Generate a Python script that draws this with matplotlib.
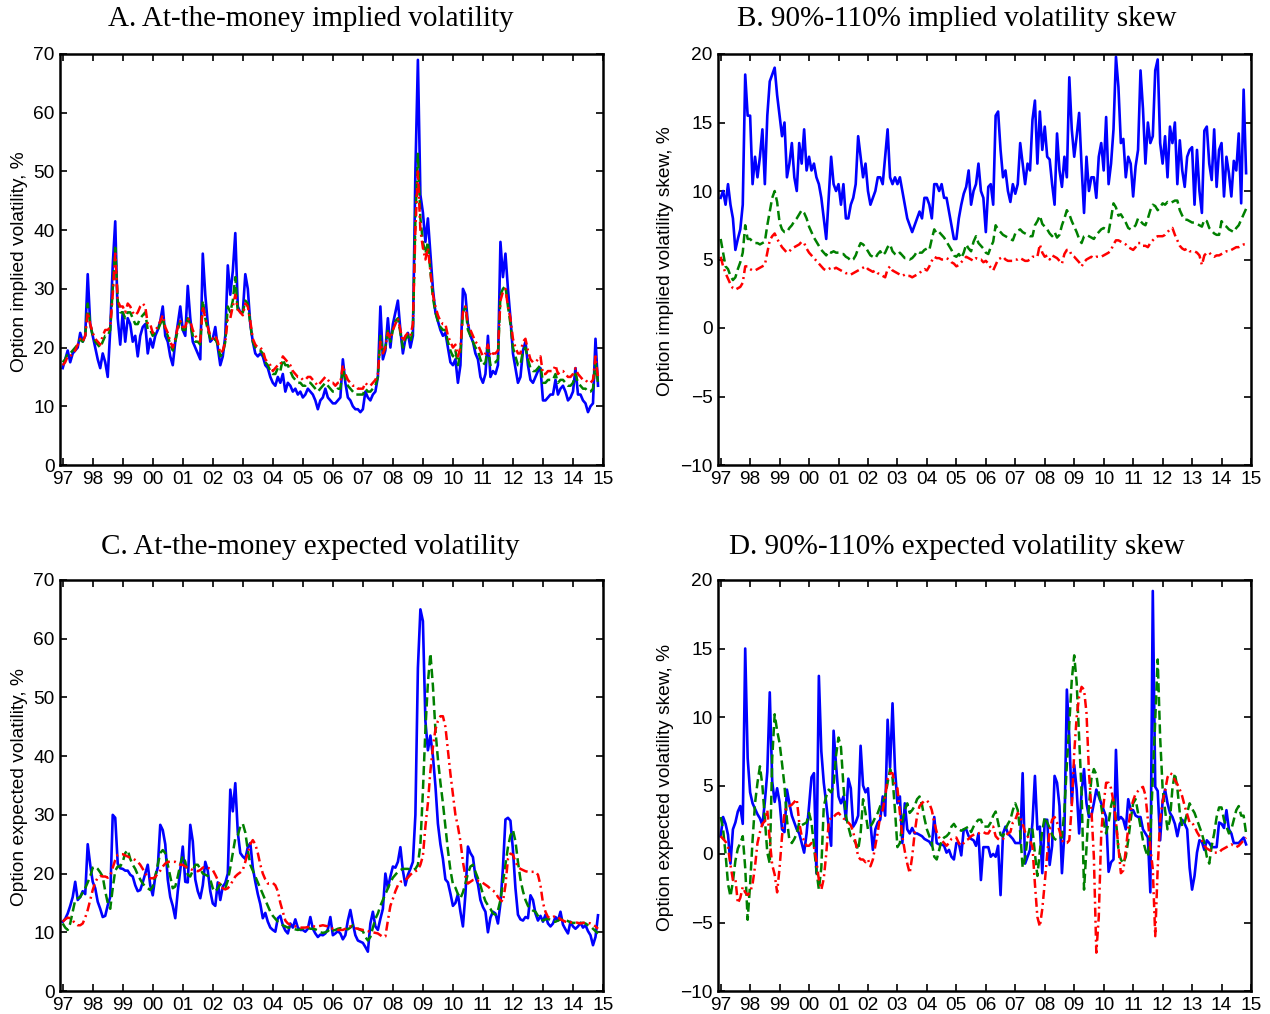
import numpy as np
import matplotlib
matplotlib.use("Agg")
import matplotlib.pyplot as plt

START_YEAR = 1997
tick_years = list(range(1997, 2016))
tick_labels = ["%02d" % (y % 100) for y in tick_years]

# ---------------- Panel A: at-the-money implied volatility (monthly, Jan 1997 - Nov 2014)
A_blue = [16.5, 18, 19.5, 17.5, 19, 19.5, 20, 22.5, 21, 22, 32.5, 24,
          22, 20, 18, 16.5, 19, 17.5, 15, 23, 34, 41.5, 25, 20.5,
          26, 21, 25, 24, 21, 22, 18.5, 22, 23.5, 24, 19, 21.5,
          20, 22, 23, 24.5, 27, 22, 21, 18.5, 17, 21, 24, 27,
          23, 22, 30.5, 25, 21, 20, 19, 18, 36, 29, 24, 21,
          21.5, 23.5, 20, 17, 18.5, 22, 34, 29, 33, 39.5, 27, 26,
          26, 32.5, 30, 24, 21, 19, 18.5, 19, 18.5, 17, 16.5, 15,
          14, 13.5, 15, 14, 15.5, 12.5, 14, 13.5, 12.5, 13, 12, 12.5,
          11.5, 12, 13, 12.5, 12, 11, 9.5, 11, 11.5, 13, 11.5, 11,
          10.5, 10.5, 11, 11.5, 18, 14, 11.5, 11, 10, 9.5, 9.5, 9,
          9.5, 12.5, 11.5, 11, 12, 12.5, 15, 27, 18, 19.5, 25, 20,
          24, 26, 28, 23, 19, 21.5, 22.5, 20, 22, 50, 69, 46,
          43, 38, 42, 36, 30, 26, 24.5, 23, 22, 22.5, 20, 17.5,
          17, 18, 14, 17, 30, 29, 24, 22, 21, 19, 18, 15,
          14, 15.5, 22, 15, 16, 15.5, 17, 38, 32, 36, 30, 25,
          19, 16.5, 14, 15, 19.5, 21, 17, 14.5, 14, 15, 16, 16.5,
          11, 11, 11.5, 12, 12, 14.5, 12, 13, 13.5, 12.5, 11, 11.5,
          12.5, 16.5, 12, 12, 11, 10.5, 9, 10, 10.5, 21.5, 13.5]
A_green = [17.5, 18, 19, 19, 19.5, 20, 20.5, 21.5, 21, 22, 27.5, 24,
           22, 21, 20.5, 20, 21, 22, 22, 23, 30, 37, 28, 26,
           26, 25, 26, 26, 25, 24, 24, 25, 25.5, 26, 23, 23,
           22, 22.5, 23, 24, 25, 23, 22, 20.5, 19.5, 21, 23, 24.5,
           23, 23, 25, 24, 22, 21, 21, 20.5, 28, 25, 23, 21.5,
           21, 21.5, 20.5, 18.5, 19, 21, 27, 26, 28, 32, 26, 26,
           26, 28, 27.5, 24, 21, 20, 19.5, 19.5, 19, 17.5, 17, 16,
           15.5, 15.5, 16.5, 16, 18, 17, 17, 16, 15, 14.5, 14, 14,
           13.5, 13.5, 14, 14, 13.5, 13, 12.5, 13, 13.5, 14, 13.5, 13,
           12.5, 12.5, 13, 13, 16.5, 14.5, 13.5, 13, 12.5, 12, 12, 12,
           12, 13, 12.5, 12.5, 13, 13.5, 15, 22, 19, 20, 23, 21,
           23, 24.5, 25, 22.5, 20, 21.5, 22, 21, 23, 42, 53, 42,
           38, 36, 38, 33, 28.5, 26, 24.5, 23.5, 23, 23, 21, 19.5,
           18.5, 19.5, 17, 19, 26, 27, 23, 22, 21, 20, 19.5, 18,
           17, 17.5, 20, 17, 17.5, 17.5, 18, 29, 30, 30.5, 27, 24,
           20, 18.5, 17, 17, 19.5, 20, 18, 16.5, 16, 16, 16.5, 17,
           14, 14, 14.5, 14.5, 14.5, 15.5, 14, 14.5, 14.5, 14, 13.5, 13.5,
           14, 15.5, 14, 13.5, 13, 13, 12.5, 12.5, 13, 17.5, 14]
A_red = [17, 17.5, 18.5, 18.5, 19, 19.5, 20.5, 21.5, 21, 22, 26, 24,
         22.5, 21.5, 21, 20.5, 22, 23, 23, 23.5, 29, 36, 28, 27,
         27, 26, 27.5, 27, 26, 25.5, 26, 27, 27.5, 27, 24, 24,
         22.5, 23, 23.5, 24.5, 25.5, 23.5, 22.5, 21, 20, 21.5, 23.5, 24.5,
         23.5, 23.5, 25, 24.5, 23, 22, 21.5, 21, 27, 25, 23.5, 22,
         21.5, 22, 21, 19, 19.5, 21, 25, 25, 27, 29, 26.5, 26,
         25.5, 27.5, 27, 24.5, 21.5, 20.5, 20, 20, 19.5, 18, 17.5, 17,
         16, 16.5, 17, 17, 18.5, 18, 17.5, 17, 16, 15.5, 15, 15,
         14.5, 14.5, 15, 15, 14.5, 14, 13.5, 14, 14.5, 15, 14.5, 14,
         14, 13.5, 14, 14, 17, 15.5, 14.5, 14, 13.5, 13.5, 13, 13,
         13, 14, 13.5, 13.5, 14, 14.5, 15.5, 21, 19, 20, 22.5, 21.5,
         23, 24, 25, 23, 21, 22, 22.5, 22, 24, 40, 50, 40,
         37, 35, 37, 33, 29, 27, 25.5, 24.5, 24, 24, 22, 21,
         20, 20.5, 18.5, 20, 26, 27, 24, 23, 22, 21, 20.5, 19.5,
         18.5, 19, 20.5, 18.5, 19, 19, 19.5, 28, 29.5, 30, 27, 25,
         21.5, 20, 19, 19, 21, 21.5, 19.5, 18, 17.5, 17.5, 18, 18.5,
         15.5, 15.5, 16, 16, 16, 17, 15.5, 16, 16, 15.5, 15, 15,
         15.5, 16.5, 15.5, 15, 14.5, 14.5, 14, 14, 14.5, 18.5, 15]

# ---------------- Panel B: 90%-110% implied volatility skew
B_blue = [9.5, 10, 9, 10.5, 9, 8, 5.7, 6.5, 7.2, 9, 18.5, 15.5,
          15.5, 10.5, 12.5, 11, 12.5, 14.5, 10.5, 15.5, 18, 18.5, 19, 17,
          15.5, 14, 15, 11, 12, 13.5, 11, 10, 13.5, 12, 14.5, 11.5,
          12.5, 11.5, 12, 11, 10.5, 9.5, 8, 6.5, 9.5, 12.5, 10.5, 10,
          10.5, 9, 10.5, 8, 8, 9, 9.5, 10.5, 14, 12.5, 11, 12,
          10, 9, 9.5, 10, 11, 11, 10.5, 12.5, 14.5, 11, 10.5, 11,
          10.5, 11, 10, 9, 8, 7.5, 7, 7.5, 8, 8.5, 8, 9.5,
          9.5, 9, 8, 10.5, 10.5, 10, 10.5, 9.5, 9.5, 8.5, 7.5, 6.5,
          6.5, 8, 9, 9.8, 10.3, 11.5, 9, 10, 10.5, 12, 10, 9.5,
          7, 10.3, 10.5, 9, 15.5, 15.8, 13, 11, 11.5, 10, 9.2, 10.5,
          9.8, 10.5, 13.5, 12, 10.5, 12, 11.5, 15.2, 16.6, 12, 15.8, 13,
          14.7, 12.5, 12.3, 10.5, 9, 14.2, 11.5, 10.3, 12.5, 11, 18.3, 14.5,
          12.5, 14, 15.7, 11.8, 8.4, 12.5, 10, 11, 11, 9.5, 12.5, 13.5,
          11.5, 15.4, 10.5, 12, 14.5, 19.8, 17.6, 13.5, 13.8, 11, 12.5, 12,
          9.6, 11.8, 13, 18.8, 16, 12, 15, 13.5, 14, 18.8, 19.6, 13.5,
          12, 14, 11, 14.7, 13.5, 15, 10.5, 13.7, 11.5, 10.3, 12.5, 13,
          13.2, 9, 13, 10, 8.4, 14.4, 14.7, 12, 10.8, 14.5, 10.3, 13,
          13.5, 9.6, 12.5, 11.3, 9.6, 12.2, 11.5, 14.2, 9.1, 17.4, 11.3]
B_green = [6.5, 5.5, 4.5, 4.3, 3.8, 3.5, 3.7, 4.3, 4.8, 5.5, 7.5, 6.5,
           6.5, 6.3, 6.2, 6.2, 6.1, 6.2, 6.3, 7.5, 8.5, 9.5, 10, 9.2,
           7.7, 7.2, 7, 7, 7.3, 7.5, 7.8, 8, 8.3, 8.6, 8.4, 8,
           7.4, 7, 6.6, 6.3, 6, 5.7, 5.5, 5.3, 5.6, 5.5, 5.6, 5.5,
           5.5, 5.4, 5.4, 5.2, 5.1, 4.9, 5, 5.3, 5.8, 6.2, 6.1, 5.9,
           5.6, 5.3, 5.2, 5.1, 5.4, 5.6, 5.3, 5.5, 5.9, 6.1, 5.6, 5.4,
           5.3, 5.5, 5.3, 5.1, 5.1, 5.0, 5.1, 5.3, 5.6, 5.5, 5.5, 5.7,
           5.8, 5.7, 6.5, 7.2, 6.9, 7, 6.8, 6.6, 6.3, 6, 5.7, 5.3,
           5.2, 5.4, 5.1, 5.5, 6.1, 5.8, 5.6, 6.3, 6.7, 6.2, 6.0, 5.8,
           5.5, 5.4, 5.9, 6.3, 7.5, 7.2, 7.0, 6.8, 6.7, 6.6, 6.5, 6.4,
           6.9, 7.1, 7.2, 7.0, 6.9, 6.8, 6.7, 6.7, 7.5, 7.8, 8.2, 7.6,
           7.4, 7.2, 6.9, 6.7, 7.0, 6.6, 6.8, 7.5, 8.0, 8.6, 8.3, 7.8,
           7.4, 7.0, 6.5, 6.2, 6.7, 6.8, 6.7, 6.6, 6.5, 6.8, 7.0, 7.2,
           7.3, 7.2, 7.0, 8.0, 9.1, 8.8, 8.2, 8.3, 8.0, 7.7, 7.3, 7.2,
           7.3, 7.5, 8.0, 7.8, 7.6, 7.5, 8.0, 8.6, 9.0, 8.9, 8.6, 8.8,
           9.1, 9.0, 9.2, 9.1, 9.2, 9.3, 9.3, 8.6, 8.2, 7.9, 7.9, 7.8,
           7.7, 7.7, 7.6, 7.5, 7.4, 7.9, 7.8, 7.3, 7.1, 6.9, 6.8, 6.8,
           7.8, 7.5, 7.4, 7.2, 7.1, 7.0, 7.3, 7.5, 7.9, 8.3, 8.7]
B_red = [5.2, 4.5, 4.0, 3.6, 3.2, 2.9, 2.8, 2.9, 3.0, 3.3, 4.5, 4.5,
         4.3, 4.2, 4.2, 4.3, 4.4, 4.5, 4.6, 5.5, 6.4, 6.7, 6.9, 6.5,
         6.2, 5.9, 5.7, 5.5, 5.6, 5.8, 5.9, 6.0, 6.1, 6.3, 6.2, 5.8,
         5.5, 5.3, 5.1, 4.9, 4.7, 4.5, 4.3, 4.2, 4.3, 4.4, 4.3, 4.4,
         4.3, 4.2, 4.1, 4.0, 4.0, 3.9, 4.0, 4.1, 4.2, 4.3, 4.4, 4.5,
         4.3, 4.2, 4.1, 4.2, 4.0, 3.9, 3.8, 3.7, 4.3, 4.5, 4.2, 4.1,
         4.0, 3.9, 3.8, 3.9, 3.8, 3.8, 3.7, 3.8, 3.9, 4.0, 4.2, 4.3,
         4.2, 4.5, 4.9, 5.2, 5.1, 5.1, 5.0, 5.0, 5.1, 5.0, 4.8, 4.7,
         4.5, 4.6, 4.8, 5.0, 5.2, 5.1, 5.0, 4.9, 5.1, 5.0, 5.0, 4.8,
         4.9, 4.7, 4.4, 4.2, 4.6, 5.0, 5.1, 5.2, 5.0, 4.9, 4.9, 4.9,
         5.0, 5.0, 5.1, 5.0, 4.9, 4.9, 5.0, 5.2, 5.2, 5.2, 6.1, 5.5,
         5.2, 5.3, 5.0, 5.3, 5.2, 5.1, 4.9, 4.7, 5.4, 5.7, 5.7, 5.3,
         5.2, 5.0, 4.8, 4.5, 4.8, 5.0, 5.1, 5.2, 5.1, 5.2, 5.2, 5.2,
         5.3, 5.4, 5.5, 5.7, 6.1, 6.4, 6.4, 6.3, 6.2, 6.1, 5.9, 5.8,
         5.7, 5.9, 6.2, 6.2, 6.0, 6.0, 5.9, 6.2, 6.4, 6.6, 6.7, 6.7,
         6.7, 6.8, 7.0, 7.2, 7.3, 6.8, 6.4, 6.0, 5.8, 5.7, 5.8, 5.6,
         5.6, 5.6, 5.5, 5.3, 4.6, 5.3, 5.5, 5.5, 5.3, 5.2, 5.3, 5.3,
         5.4, 5.5, 5.6, 5.6, 5.7, 5.8, 5.9, 5.9, 6.0, 6.1, 6.1]

# ---------------- Panel C: at-the-money expected volatility
C_blue = [11.8, 12.3, 13.2, 14.5, 16, 18.6, 15.5, 16, 17, 16.5, 25, 21.5,
          18.6, 17.5, 15.2, 14, 12.6, 12.8, 14.6, 16, 30, 29.5, 21.7, 20.9,
          20.8, 20.5, 20.5, 19.8, 19.5, 18, 17, 17.2, 18.5, 20, 21.5, 18,
          16.3, 19.5, 21, 28.3, 27.4, 25, 19, 16, 14.5, 12.4, 17, 20.6,
          24.6, 18.6, 18.5, 28.3, 25.5, 19, 17, 15.8, 18, 22, 20.5, 17,
          14.9, 14.5, 18.5, 15.5, 17.8, 18.4, 20, 34.3, 30.6, 35.4, 27, 23.5,
          22.9, 22.5, 24.5, 25.2, 21, 18.6, 16.5, 14.8, 12.4, 13.3, 11.8, 10.8,
          10.4, 10.1, 12.4, 12.8, 11.2, 10.3, 9.8, 11.5, 10.8, 12.2, 10.8, 10.4,
          10.4, 10.1, 10.6, 12.6, 10.6, 9.8, 9.2, 9.6, 9.5, 9.8, 10.5, 12.6,
          9.5, 9.8, 10.2, 9.8, 8.8, 9.5, 12, 13.8, 11.5, 9.5, 8.6, 8.4,
          8.2, 7.5, 6.7, 11.5, 13.5, 11, 10.4, 12.3, 14, 20, 17.5, 19.5,
          21.2, 21, 22, 24.5, 20.5, 18, 19.8, 20.8, 22, 30, 55, 65,
          63, 46, 41, 43.5, 40, 35, 28.5, 25, 22.5, 19, 18.5, 16.6,
          14.5, 15, 16.5, 13.5, 11, 16.5, 24.6, 23.5, 22.8, 19.5, 18.2, 15.5,
          14.3, 13.5, 10, 12.5, 13.5, 13.2, 11.5, 14.9, 21, 29.2, 29.5, 29,
          24, 17.5, 13, 12.2, 12, 12.6, 12.4, 16.3, 15.5, 13.2, 12, 12.8,
          11.8, 13, 11.5, 11, 11.5, 12.6, 12, 13.5, 11.3, 10.5, 9.8, 11.8,
          11, 10.6, 11, 11.6, 10.8, 11.2, 10.2, 9.5, 7.8, 9.2, 12.9]
C_green = [11.5, 10.8, 10.4, 11.5, 13.5, 15.5, 15.8, 16, 16.8, 17.5, 18.5, 19.5,
           21, 21.2, 20.8, 20.2, 19.5, 17, 15, 14, 17.5, 20.5, 21.2, 21.2,
           22, 23.5, 24, 22.5, 21.5, 20.8, 19.8, 19, 18.3, 17.8, 17.5, 17.2,
           17.8, 19.5, 21.5, 23.5, 24, 23.5, 21.5, 19.5, 17.5, 17.8, 19.5, 21.5,
           23, 22, 19.8, 19.5, 20.5, 21.5, 21.5, 20.8, 20, 19.8, 19.6, 19,
           17.5, 16.9, 17.5, 18.2, 17.8, 17.5, 18.8, 21, 23.5, 26, 26.5, 28,
           28.5, 27, 24, 21.5, 20.5, 19.5, 18.5, 17.5, 16.5, 15.5, 14.5, 13.5,
           12.8, 12.3, 11.8, 11.5, 11.2, 11, 10.8, 10.8, 10.6, 10.5, 10.4, 10.5,
           10.6, 10.7, 10.8, 10.6, 10.6, 10.5, 10.3, 10, 9.9, 10, 10.2, 10.6,
           10.3, 10.4, 10.6, 10.7, 10.6, 10.6, 10.5, 10.8, 11.2, 11, 10.6, 10.4,
           10.2, 9.2, 8.6, 9.2, 10.8, 12.3, 13.2, 14.5, 15.5, 16.5, 17.5, 18.5,
           19.3, 19.8, 20.3, 20.6, 20.8, 20.8, 20.8, 20.7, 20.6, 20.8, 21.5, 25,
           34, 44.5, 52.5, 57.5, 52, 44.5, 39.5, 35.5, 32, 28, 24, 20.6,
           18.2, 17.6, 16.5, 15.8, 16.8, 18.3, 20, 21.2, 21.5, 20.3, 19.2, 18,
           16.5, 15.3, 14.6, 14, 13.2, 13, 13.7, 15.5, 18.5, 21.5, 24.5, 26.5,
           27.4, 25.5, 22, 19, 17, 15.5, 14.5, 14, 13.7, 13.5, 12.8, 12.4,
           12, 12.2, 12.3, 12.1, 11.8, 11.8, 12, 12.2, 12.3, 12.1, 11.9, 11.7,
           11.6, 11.6, 11.5, 11.6, 11.6, 11.5, 11.2, 11, 10.6, 10.2, 9.8]
C_red = [11.8, 12.2, 12.5, 12.4, 12, 11.5, 11.2, 11.2, 11.5, 12.5, 13.8, 15.5,
         17.2, 18.5, 19.3, 19.6, 19.5, 19.5, 19.3, 19.6, 21, 22.3, 23.2, 23.3,
         23.3, 23.1, 22.9, 22.7, 22.6, 22.3, 22, 21.5, 20.8, 20, 19.5, 19.2,
         19.2, 19.4, 20, 20.5, 21.2, 21.7, 22, 22, 22, 22, 21.8, 21.5,
         21.5, 21.2, 21, 20.8, 20.6, 20.5, 20.4, 20.6, 21, 21.2, 21, 20.8,
         20.6, 19.8, 18.9, 18, 17.5, 17.3, 17.5, 18, 18.8, 19.5, 19.9, 20.2,
         20.6, 22, 23.5, 25, 25.7, 25, 23.5, 21.5, 20, 19, 18.3, 18.3,
         18.4, 18, 17, 15, 13.5, 12, 11.5, 11.3, 11.1, 11, 10.9, 10.8,
         10.8, 10.8, 10.9, 10.9, 11, 11, 11, 11.1, 11.2, 11.1, 11, 10.8,
         10.6, 10.5, 10.4, 10.4, 10.4, 10.6, 10.9, 11, 10.9, 10.7, 10.6, 10.5,
         10.4, 10.3, 10.2, 10.1, 10, 9.9, 9.8, 9.5, 9.2, 9.3, 12, 14.5,
         15.7, 17, 18, 18.6, 18.7, 18.9, 19.3, 19.8, 20.2, 20.4, 20.6, 21.5,
         23, 28, 32, 37.5, 41.5, 44.5, 46, 46.8, 46.8, 45, 41, 37,
         33.5, 30, 28, 25.5, 22, 19.5, 18.3, 18.6, 18.9, 19, 18.8, 18.7,
         18.4, 18.1, 17.8, 17.4, 17.1, 16.8, 16, 15.5, 15.2, 18, 22.5, 23.4,
         23.2, 22, 21.2, 20.8, 20.6, 20.4, 20.3, 20.3, 20.3, 20.3, 19.8, 18,
         15, 13.5, 12.6, 12.4, 12.6, 12.8, 12.6, 12.2, 12, 11.8, 11.8, 11.7,
         11.7, 11.7, 11.6, 11.5, 11.6, 11.7, 11.6, 11.5, 11.3, 11, 10.6]

# ---------------- Panel D: 90%-110% expected volatility skew
D_blue = [1.3, 2.7, 2.2, 1.4, -0.7, 1.8, 2.3, 3.1, 3.5, 2.2, 15, 7,
          4.5, 3.7, 3.3, 2.9, 2.6, 2.1, 3.8, 6, 11.8, 5.3, 3.8, 4.8,
          3.8, 1.8, 1.6, 4.7, 3.7, 2.8, 2.3, 1.8, 1.5, 0.8, 0.1, 1.5,
          3.5, 5.6, 5.9, -1.4, 13, 7.5, 5.2, 3.7, 2, 0.6, 9, 6.5,
          4.2, 3.7, 4.2, 2.5, 5.5, 4.8, 2, 2.3, 2.8, 7.9, 5, 4.5,
          4.8, 2.3, 0.3, 1.8, 2.3, 2.5, 4.2, 2.8, 9.8, 6.3, 11, 6.2,
          3.7, 4.2, 0.8, 3.7, 1.8, 1.5, 1.9, 1.5, 1.5, 1.4, 1.3, 1.1,
          1.0, 0.9, 0.6, 2.7, 0.8, 0.7, 0.7, 0.6, 0.1, 0.3, -0.2, -0.4,
          0.8, 0.8, -0.1, 1.8, 1.8, 1.3, 1.1, 1, 0.6, 1.5, -1.9, 0.5,
          0.5, 0.5, -0.2, 0, -0.2, 0.6, -3.0, 1.5, 2, 1.5, 1.3, 1.1,
          0.8, 0.8, 0.8, 5.9, -0.7, -0.2, 0.3, 2.3, 5.7, 1.8, 2, -1.4,
          2.5, 2.5, -0.8, 0.6, 5.7, 5.2, 3.5, -1.4, 1.5, 12, 8.5, 3.7,
          6.5, 4.7, 1.5, 4.5, 6.2, 3.7, 2.7, 2.8, 3.7, 4.7, 4.2, 3.7,
          3.2, 2.7, -1.3, -0.6, -0.4, 7.6, 2.5, 2.7, 2.5, 1.8, 4, 3.2,
          3.2, 2.8, 2.7, 2.7, 1.8, 1.5, 1.2, -2.8, 19.2, 4.9, 4.6, 1.0,
          3.9, 4.7, 3.7, 3, 2.7, 2.2, 1.3, 2.2, 2.5, 2.2, 1.8, -1.0,
          -2.6, -1.6, 0.1, 1, 0.9, 0.3, 1, 0.8, 0.5, 0.5, 0.5, 2.3,
          2.2, 1.9, 3.2, 1.8, 1.5, 0.8, 0.8, 0.8, 1.0, 1.2, 0.7]
D_green = [2.7, 1.8, 0, -2.2, -3.1, -2, -0.5, 0.4, 0.8, 1.3, -1, -4.8,
           -2.2, 1.0, 3.7, 5.2, 6.4, 5, 2.5, 0.1, -0.7, 7, 10.2, 9,
           8.1, 6.6, 5, 2.5, 1, 0.8, 1.1, 1.5, 2.3, 2.1, 2.2, 2.3,
           3, 2.3, 0.6, -1.2, -2.6, -1, 3.5, 4.2, 4.7, 4.5, 5, 7.2,
           8.5, 7.8, 5, 2.8, 2, 1.3, 1.1, 0.8, 0.3, 1.5, 4, 3,
           1.8, 2, 2.3, 2.7, 3, 3.5, 3.8, 4.2, 5.2, 6.2, 5.6, 3.2,
           0.5, 0.8, 2.4, 3.2, 3.7, 3, 3.2, 3.5, 4, 4.2, 3.6, 2.6,
           1.8, 1.3, 0.8, -0.2, -0.4, 0.3, 1, 1.2, 1.3, 1.5, 2, 2.2,
           1.9, 1.8, 1.7, 1.8, 1.9, 2.0, 1.6, 2, 2.3, 2.5, 2.5, 2.0,
           2.0, 2.0, 2.3, 2.8, 3.1, 2.3, 1.4, 1.3, 1.8, 2.2, 2.5, 3.2,
           3.7, 3.2, 1.6, -1.0, -0.3, 1.2, 2.0, 1.8, 0, -1.6, 0.2, 1.7,
           2.7, 2.3, 1.9, 1.4, 1.1, 1.0, 1.2, 1.2, 3.2, 6.5, 9.5, 12.7,
           14.5, 12.5, 8.5, 4.5, -2.6, 0.5, 3.5, 5.5, 6.2, 5.8, 4.5, 3.5,
           2.3, 1.5, 2.3, 3.5, 4.2, 2.5, 0.3, -0.4, -0.7, -0.2, 1.0, 2.5,
           3.7, 4, 3.0, 2.0, 1.0, 0.3, -0.2, 1.3, 5.5, 9.8, 14.2, 8.5,
           4.8, 3.2, 1.8, 2.5, 4.8, 5.9, 4.8, 3.0, 2.0, 2.3, 3.0, 3.7,
           3.3, 3.0, 2.5, 2.0, 1.5, 0.8, -0.2, -0.7, 0.6, 1.5, 2.7, 3.4,
           3.4, 2.5, 2.0, 1.5, 1.8, 2.5, 3.2, 3.5, 2.8, 2.8, 1.5]
D_red = [1.3, 1.1, 0.9, 0.5, -0.8, -1.9, -1.8, -3.6, -3.2, -2.4, -2.8, -3.0,
         -2.8, -2.2, -0.9, 0.8, 1.6, 2.2, 2.4, 3.2, 1.0, -0.8, -1.5, -2.8,
         -1.0, 1.3, 3.0, 3.5, 3.5, 3.6, 3.8, 4, 2.3, 1.3, 1.0, 0.6,
         0.6, 0.8, 0.5, -0.5, -1.9, -2.6, -1.8, 0, 2.3, 2.7, 2.7, 2.9,
         3.0, 2.8, 2.6, 2.5, 2.3, 2.1, 1.6, 0.8, -0.2, -0.4, -0.4, -0.6,
         -0.4, -0.9, -0.4, 0.6, 1.6, 2.8, 3.2, 4.2, 5.5, 5.9, 5.9, 5.0,
         4.8, 3.0, 1.3, 0.2, -0.7, -1.4, -0.2, 1.5, 2.8, 3.5, 3.7, 3.9,
         3.9, 3.7, 3.2, 2.3, 1.6, 1.2, 1.0, 0.8, 0.6, 0.8, 1.1, 1.2,
         1.2, 0.8, 0.6, 0.8, 1.0, 1.1, 1.3, 1.4, 1.5, 1.5, 1.6, 1.6,
         1.5, 1.5, 1.8, 2.0, 1.3, 1.1, 1.0, 1.1, 1.3, 1.5, 1.6, 2.3,
         2.5, 3.0, 2.7, 2.2, 1.6, 1.3, 1.0, 0.5, -2.2, -4.6, -5.3, -4.0,
         -2.1, 0, 1.7, 2.5, 2.7, 2.3, 1.7, 1.0, 0.8, 0.8, 1.0, 3.5,
         7.4, 10, 11.5, 12.2, 12, 10.3, 6, 3.2, -0.2, -7.2, -4.6, 1.5,
         3.7, 5.2, 5.2, 4.8, 3.8, 2.3, 0.5, -1.4, -1.2, 0.3, 1.9, 3.2,
         3.9, 4.4, 4.6, 4.8, 4.9, 4.3, 2.5, 0.5, -1.1, -6.0, -1.0, 2.5,
         3.8, 4.6, 5.6, 5.9, 5.8, 5.4, 5.1, 4.7, 4.2, 3.5, 2.9, 2.3,
         2.3, 2.0, 1.6, 1.3, 1.0, 0.6, 0.4, 0.3, 0.2, 0.1, 0.1, 0.1,
         0.3, 0.4, 0.5, 0.6, 0.7, 0.6, 0.5, 0.6, 0.8, 1.0, 1.2]

titles = ["A. At-the-money implied volatility",
          "B. 90%-110% implied volatility skew",
          "C. At-the-money expected volatility",
          "D. 90%-110% expected volatility skew"]
ylabels = ["Option implied volatility, %",
           "Option implied volatility skew, %",
           "Option expected volatility, %",
           "Option expected volatility skew, %"]
yticks_level = list(range(0, 71, 10))
yticks_skew = list(range(-10, 21, 5))


def months(v):
    return START_YEAR + np.arange(len(v)) / 12.0


W, H = 1270.0, 1014.0
fig = plt.figure(figsize=(12.7, 10.14), dpi=100)

panels = [
    (A_blue, A_green, A_red, (60, 54, 603, 465), yticks_level, (310.5, 19.5), 19.5),
    (B_blue, B_green, B_red, (718, 54, 1251, 465), yticks_skew, (957, 19.5), 665.5),
    (C_blue, C_green, C_red, (60, 580, 603, 991), yticks_level, (310.5, 547.5), 19.5),
    (D_blue, D_green, D_red, (718, 580, 1251, 991), yticks_skew, (957, 547.5), 665.5),
]

tick_font = "Liberation Sans"
for i, (b, g, r, box, yt, tpos, labx) in enumerate(panels):
    x0, y0, x1, y1 = box
    ax = fig.add_axes([x0 / W, 1 - y1 / H, (x1 - x0) / W, (y1 - y0) / H])
    ax.plot(months(b), b, color="#0000ff", lw=1.9, ls="-")
    ax.plot(months(g), g, color="#008000", lw=1.8, ls=(0, (3.7, 1.8)))
    ax.plot(months(r), r, color="#ff0000", lw=1.8, ls=(0, (3.6, 1.6, 0.8, 1.6)))
    ax.set_xlim(1996.91, 2015.0)
    ax.set_ylim(yt[0], yt[-1])
    ax.set_xticks(tick_years)
    ax.set_xticklabels(tick_labels)
    ax.set_yticks(yt)
    ax.tick_params(direction="in", top=True, right=True, length=5, width=1.2,
                   labelsize=13.8, pad=4)
    for lab in ax.get_xticklabels() + ax.get_yticklabels():
        lab.set_fontfamily(tick_font)
    for sp in ax.spines.values():
        sp.set_linewidth(1.8)
    ax.set_ylabel(ylabels[i], fontsize=13.8, fontfamily=tick_font, va="center")
    ax.yaxis.set_label_coords((labx - x0) / (x1 - x0), 0.495)
    fig.text(tpos[0] / W, 1 - tpos[1] / H, titles[i], ha="center", va="center",
             fontsize=21, fontfamily="Liberation Serif")

fig.savefig("out.png", dpi=100)
